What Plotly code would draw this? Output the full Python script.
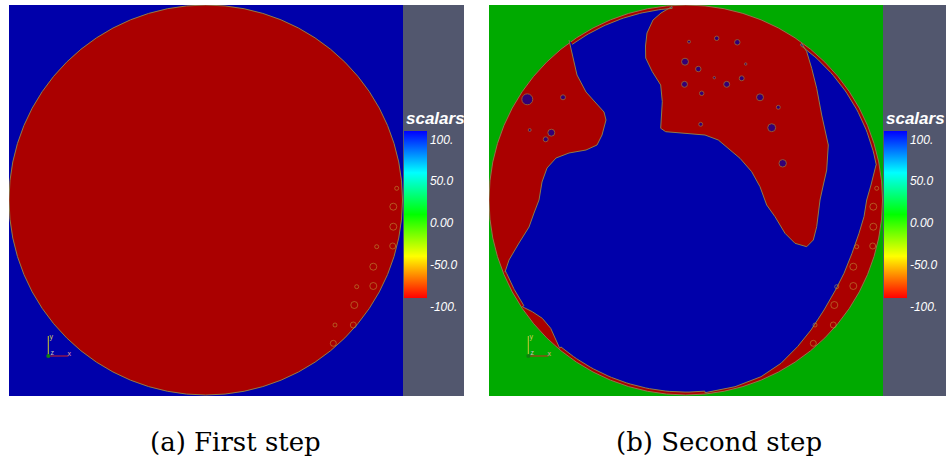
import numpy as np
import plotly.graph_objects as go

# ---------------- data (mesh units) ----------------
VIEW_W, VIEW_H = 394, 391            # visible window of each render
DOMAIN_CX, DOMAIN_CY = 196.75, 195.0  # circular domain centre
DOMAIN_RX, DOMAIN_RY = 196.75, 195.0  # circular domain radii

# colour bar
cbar_vals = [-100, -50, 0, 50, 100]
cbar_text = ["-100.", "-50.0", "0.00", "50.0", "100."]
cbar_title = "scalars"
captions = ["(a) First step", "(b) Second step"]

# step 2: interface of the left red lobe (top -> bottom)
left_lobe_u = [80, 83, 88, 97, 107, 115, 117, 113, 108, 97, 80, 67, 58, 53, 50, 45, 40, 30, 20, 16]
left_lobe_v = [35, 50, 70, 87, 98, 107, 115, 130, 140, 145, 148, 153, 163, 177, 195, 208, 222, 238, 255, 267]

# step 2: interface of the upper red lobe (top-left -> around -> top-right)
top_lobe_u = [183, 172, 164, 158, 156.5, 156.7, 163.3, 171.7, 173.3, 172.5, 171.7, 176.7, 196, 216, 229.3,
              239.3, 251, 262.7, 271, 277.7, 286, 296, 306, 317.7, 324.3, 327.7, 329.3, 331, 334.3, 337.7,
              339.3, 336, 332.7, 327.7, 322.7, 317.7, 312.7]
top_lobe_v = [1.5, 8, 15, 28, 41, 53, 66.7, 80, 96.7, 110, 123.3, 126.7, 128.3, 130, 135,
              143.3, 153.3, 166.7, 181.7, 200, 211.7, 228.3, 238.3, 241.7, 235, 221.7, 208.3, 195, 180, 165,
              140, 125, 110, 83.3, 63.3, 46.7, 38.3]

# step 2: inner edge of the red strip along the right wall (top -> bottom)
rim_strip_u = [387, 382, 377.7, 375, 370, 363, 355, 346.5, 335, 322, 308.5, 292, 272, 246, 216]
rim_strip_v = [160, 180, 195, 211.7, 228.3, 248.3, 268.3, 285, 305, 325, 341.7, 358.3, 371.7, 381.7, 387.7]

# step 2: small red bump on the lower-left wall (bottom -> top)
bump_u = [70.7, 66.7, 61.7, 53.3, 43.3, 33.3]
bump_v = [343.3, 335, 323.3, 313.3, 306.7, 301.7]

# step 2: blue inclusions inside the red lobes
hole_u = [200, 227.7, 248.3, 196, 209.3, 256.7, 195.5, 225.3, 237.7, 252.7, 212.7, 271, 289.3, 211.7,
          282.7, 293.7, 38.3, 74, 40.7, 62.3, 56.7]
hole_v = [36.7, 33.3, 37.3, 56.7, 64, 59, 79.3, 72.7, 79.3, 73.3, 88.3, 92.3, 102.3, 119.3,
          122.7, 158.3, 94.3, 92.3, 125, 127.7, 134.3]
hole_d = [3, 4.5, 5.5, 7, 5.5, 2.5, 6, 2.5, 6, 5, 4.5, 7, 4, 4,
          8, 7.5, 11, 5, 3, 7, 5]

# small particle outlines near the right wall (same in both steps)
ring_u = [387.7, 384.3, 384.3, 383.7, 367.7, 364.3, 364.3, 347.7, 345.3, 344.3, 326, 324.3]
ring_v = [183.3, 201.7, 221.7, 241, 241.7, 261.7, 281, 281.7, 300, 320, 320, 338.3]
ring_d = [4, 7, 7, 6, 4, 7, 7, 4, 7, 6, 4, 6]

# orientation triad
triad_origin = (39.3, 351)
triad_len = 20

BLUE, RED, GREEN = "#0000aa", "#aa0000", "#00aa00"
GRAY = "#52576e"
EDGE = "#8c7a4a"

W, H = 946, 462
panel_left = [9, 489]
panel_top, panel_bottom = 5, 396


def arc_between(p0, p1, k=0.985, n=40):
    """points on the (inset) domain wall going clockwise from p0 to p1"""
    def ang(p):
        return np.arctan2(-(p[1] - DOMAIN_CY) / DOMAIN_RY, (p[0] - DOMAIN_CX) / DOMAIN_RX)
    a0, a1 = ang(p0), ang(p1)
    if a1 > a0:
        a1 -= 2 * np.pi
    t = np.linspace(a0, a1, n)
    return list(DOMAIN_CX + k * DOMAIN_RX * np.cos(t)), list(DOMAIN_CY - k * DOMAIN_RY * np.sin(t))


# assemble the blue phase outline of step 2 (clockwise)
bu, bv = [], []
def add(us, vs):
    bu.extend(us); bv.extend(vs)

a = arc_between((left_lobe_u[0], left_lobe_v[0]), (top_lobe_u[0], top_lobe_v[0])); add(*a)
add(top_lobe_u, top_lobe_v)
a = arc_between((top_lobe_u[-1], top_lobe_v[-1]), (rim_strip_u[0], rim_strip_v[0])); add(*a)
add(rim_strip_u, rim_strip_v)
a = arc_between((rim_strip_u[-1], rim_strip_v[-1]), (bump_u[0], bump_v[0])); add(*a)
add(bump_u, bump_v)
a = arc_between((bump_u[-1], bump_v[-1]), (left_lobe_u[-1], left_lobe_v[-1])); add(*a)
add(left_lobe_u[::-1], left_lobe_v[::-1])

fig = go.Figure()

RING_COLOR = "rgba(190,160,60,0.75)"

# step 1 particle outlines
fig.add_trace(go.Scatter(x=ring_u, y=ring_v, xaxis="x", yaxis="y", mode="markers",
                         marker=dict(symbol="circle-open", size=ring_d, color=RING_COLOR,
                                     line=dict(width=1)), hoverinfo="skip", showlegend=False))

# step 2 blue phase, particles and inclusions
fig.add_trace(go.Scatter(x=bu, y=bv, xaxis="x2", yaxis="y2", mode="lines", fill="toself",
                         fillcolor=BLUE, line=dict(color=EDGE, width=1), hoverinfo="skip",
                         showlegend=False))
fig.add_trace(go.Scatter(x=ring_u, y=ring_v, xaxis="x2", yaxis="y2", mode="markers",
                         marker=dict(symbol="circle-open", size=ring_d, color=RING_COLOR,
                                     line=dict(width=1)), hoverinfo="skip", showlegend=False))
fig.add_trace(go.Scatter(x=hole_u, y=hole_v, xaxis="x2", yaxis="y2", mode="markers",
                         marker=dict(size=hole_d, color=BLUE, line=dict(color=EDGE, width=1)),
                         hoverinfo="skip", showlegend=False))

# orientation triads
for i in range(2):
    xa = "x" if i == 0 else "x2"
    ya = "y" if i == 0 else "y2"
    ox, oy = triad_origin
    fig.add_trace(go.Scatter(x=[ox, ox], y=[oy, oy - triad_len], xaxis=xa, yaxis=ya, mode="lines",
                             line=dict(color="#c8c832", width=1), hoverinfo="skip", showlegend=False))
    fig.add_trace(go.Scatter(x=[ox, ox + triad_len], y=[oy, oy], xaxis=xa, yaxis=ya, mode="lines",
                             line=dict(color="#d02020", width=1), hoverinfo="skip", showlegend=False))
    fig.add_trace(go.Scatter(x=[ox], y=[oy], xaxis=xa, yaxis=ya, mode="markers",
                             marker=dict(size=4, color="#108010"), hoverinfo="skip", showlegend=False))
    fig.add_trace(go.Scatter(x=[ox + 3, ox + 4, ox + 21], y=[oy - 19, oy - 3, oy - 2], xaxis=xa, yaxis=ya,
                             mode="text", text=["y", "z", "x"],
                             textfont=dict(size=7, color=["#d0d060", "#c0c0c0", "#e0a0a0"],
                                           family="Liberation Sans"),
                             hoverinfo="skip", showlegend=False))

# colour bars
cscale = [[0, "rgb(255,0,0)"], [0.25, "rgb(255,255,0)"], [0.5, "rgb(0,255,0)"],
          [0.75, "rgb(0,255,255)"], [1, "rgb(0,0,255)"]]
for i, ca in enumerate(["coloraxis", "coloraxis2"]):
    fig.add_trace(go.Scatter(x=[None], y=[None], xaxis="x" if i == 0 else "x2",
                             yaxis="y" if i == 0 else "y2", mode="markers",
                             marker=dict(color=[0], coloraxis=ca, size=1), showlegend=False,
                             hoverinfo="skip"))

bar_top, bar_bottom = 131, 298
for i, ca in enumerate(["coloraxis", "coloraxis2"]):
    bar_x = (panel_left[i] + VIEW_W + 1) / W
    fig.layout[ca] = dict(
        cmin=-100, cmax=100, colorscale=cscale,
        colorbar=dict(
            x=bar_x, xanchor="left", xpad=0, ypad=0,
            y=1 - (bar_top + bar_bottom) / 2 / H, yanchor="middle",
            len=bar_bottom - bar_top, lenmode="pixels", thickness=23, outlinewidth=0,
            tickvals=cbar_vals, ticktext=cbar_text, ticks="",
            ticklabelposition="outside bottom",
            tickfont=dict(family="Liberation Sans", size=12, color="white", style="italic"),
        ))
    fig.add_annotation(text=cbar_title, x=bar_x, y=1 - 118 / H, xref="paper", yref="paper",
                       xanchor="left", yanchor="middle", showarrow=False,
                       font=dict(family="Liberation Sans", size=17, color="white",
                                 style="italic", weight="bold"))

ydom = [1 - panel_bottom / H, 1 - panel_top / H]
axis_common = dict(visible=False, fixedrange=True)
fig.update_layout(
    width=W, height=H, margin=dict(l=0, r=0, t=0, b=0, autoexpand=False),
    paper_bgcolor="white", plot_bgcolor="white", showlegend=False,
    xaxis=dict(domain=[panel_left[0] / W, (panel_left[0] + VIEW_W) / W], range=[0, VIEW_W],
               anchor="y", **axis_common),
    yaxis=dict(domain=ydom, range=[VIEW_H, 0], anchor="x", **axis_common),
    xaxis2=dict(domain=[panel_left[1] / W, (panel_left[1] + VIEW_W) / W], range=[0, VIEW_W],
                anchor="y2", **axis_common),
    yaxis2=dict(domain=ydom, range=[VIEW_H, 0], anchor="x2", **axis_common),
)

shapes = [
    dict(type="rect", xref="x domain", yref="y domain", x0=0, x1=1, y0=0, y1=1,
         fillcolor=BLUE, line=dict(width=0), layer="below"),
    dict(type="rect", xref="x2 domain", yref="y2 domain", x0=0, x1=1, y0=0, y1=1,
         fillcolor=GREEN, line=dict(width=0), layer="below"),
]
for xr, yr in [("x", "y"), ("x2", "y2")]:
    shapes.append(dict(type="circle", xref=xr, yref=yr,
                       x0=DOMAIN_CX - DOMAIN_RX, x1=DOMAIN_CX + DOMAIN_RX,
                       y0=DOMAIN_CY - DOMAIN_RY, y1=DOMAIN_CY + DOMAIN_RY,
                       fillcolor=RED, line=dict(color=EDGE, width=1), layer="below"))
gray_right = [464, 946]
for i in range(2):
    shapes.append(dict(type="rect", xref="paper", yref="paper",
                       x0=(panel_left[i] + VIEW_W) / W, x1=gray_right[i] / W,
                       y0=ydom[0], y1=ydom[1], fillcolor=GRAY, line=dict(width=0), layer="below"))
fig.update_layout(shapes=shapes)

caption_x = [235, 719]
for i, c in enumerate(captions):
    fig.add_annotation(text=c, x=caption_x[i] / W, y=1 - 442 / H, xref="paper", yref="paper",
                       xanchor="center", yanchor="middle", showarrow=False,
                       font=dict(family="DejaVu Serif", size=26, color="black"))

fig.write_html("out.html", config={"displayModeBar": False},
               post_script="document.body.style.margin='0';document.body.style.padding='0';")
